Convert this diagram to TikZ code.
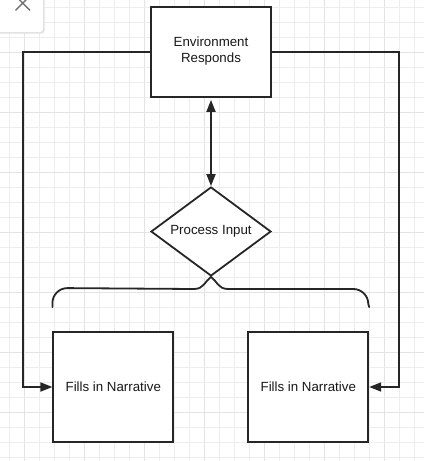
\documentclass[tikz,border=0pt]{standalone}
\usepackage{fontspec}
\setmainfont{Liberation Sans}
\usepackage{tikz}
\usetikzlibrary{positioning,calc,arrows.meta,shapes.geometric}
\definecolor{color-line}{rgb}{0.15,0.15,0.15}
\definecolor{color-grid}{rgb}{0.93,0.93,0.93}
\definecolor{color-gridmajor}{rgb}{0.89,0.89,0.89}

\tikzset{
  diagramtext/.style={font=\fontsize{13.3pt}{16pt}\selectfont, text=black!90},
  stepbox/.style={draw=color-line, line width=1.8pt, fill=white, diagramtext,
    align=center, inner sep=2pt},
  decision/.style={diamond, draw=color-line, line width=1.8pt, fill=white, diagramtext,
    aspect=1.35, minimum width=120pt, minimum height=89pt, inner sep=1pt},
  conn/.style={draw=color-line, line width=1.8pt},
  tip/.style={-{Triangle[length=12pt,width=9pt]}},
  gridline/.style={draw=color-grid, line width=0.8pt},
  gridmajor/.style={draw=color-gridmajor, line width=0.8pt}
}

\begin{document}
\begin{tikzpicture}[x=1pt,y=-1pt]
\useasboundingbox (0,0) rectangle (424,461);
\fill[white] (0,0) rectangle (424,461);

% background grid
\foreach \i in {0,...,27}{
  \pgfmathtruncatemacro{\m}{mod(\i,4)}
  \ifnum\m=1 \draw[gridmajor] (9+15*\i,0) -- (9+15*\i,461);
  \else \draw[gridline] (9+15*\i,0) -- (9+15*\i,461); \fi
}
\foreach \j in {0,...,30}{
  \pgfmathtruncatemacro{\m}{mod(\j,4)}
  \ifnum\m=3 \draw[gridmajor] (0,7.3+15*\j) -- (424,7.3+15*\j);
  \else \draw[gridline] (0,7.3+15*\j) -- (424,7.3+15*\j); \fi
}

% close panel, top left
\fill[black!12, rounded corners=3pt] (-10,-10) rectangle (44.5,33.5);
\fill[white, rounded corners=3pt] (-10,-10) rectangle (43,32);
\draw[black!55, line width=1.4pt] (15.5,-4) -- (30,10.3) (15.5,10.3) -- (30,-4);

% nodes
\node[stepbox, minimum width=120pt, minimum height=90pt] (env) at (211,52)
  {Environment\\Responds\\[-12pt]};
\node[decision] (proc) at (211,231.5) {Process Input};
\node[stepbox, minimum width=120pt, minimum height=110pt] (fillL) at (113.3,387)
  {Fills in Narrative};
\node[stepbox, minimum width=120pt, minimum height=110pt] (fillR) at (308.3,387)
  {Fills in Narrative};

% turning points of the side connectors
\coordinate (lturn) at (22.7,52);
\coordinate (rturn) at (399,52);

% connectors
\draw[conn, {Triangle[length=12pt,width=9pt]}-{Triangle[length=12pt,width=9pt]},
  shorten <=2pt] (env.south) -- (proc.north);
\draw[conn, tip] (env.west) -- (lturn) |- (fillL.west);
\draw[conn, tip] (env.east) -- (rturn) |- (fillR.east);

% brace under the decision
\coordinate (braceL) at ($(fillL.north west)+(0,-24)$);
\coordinate (braceR) at ($(fillR.north east)+(0,-24)$);
\draw[conn, line cap=round]
  (braceL) -- ++(0,-4) arc[start angle=180, end angle=270, radius=15]
  -- (194,289) .. controls (204,289) and (205,281) .. (proc.south)
  .. controls (217,281) and (218,289) .. (228,289)
  -- (353.3,289) arc[start angle=270, end angle=360, radius=15] -- (braceR);
\end{tikzpicture}
\end{document}
